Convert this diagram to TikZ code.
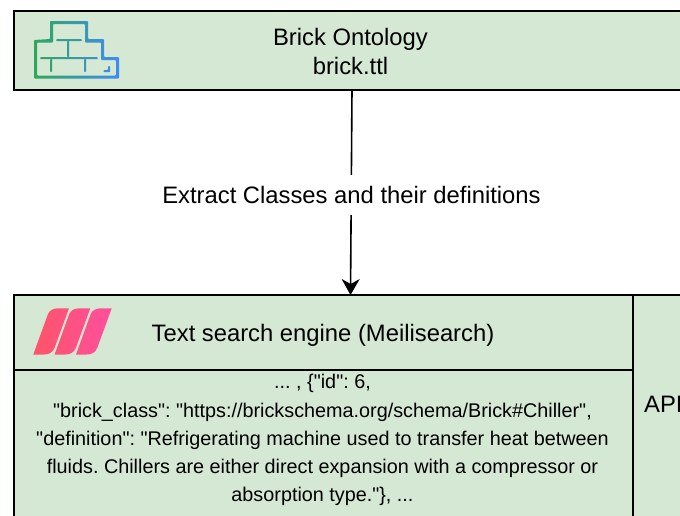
\documentclass[tikz,border=0pt]{standalone}
\usepackage{fontspec}
\setmainfont{Liberation Sans}[Ligatures=TeXOff]
\usetikzlibrary{arrows.meta}
\definecolor{boxgreen}{HTML}{D5E8D4}
\definecolor{brickgreen}{HTML}{2FA85A}
\definecolor{brickblue}{HTML}{3F8CF5}
\definecolor{meilired}{HTML}{FF5468}
\definecolor{meilipink}{HTML}{FF4F9E}
\tikzset{
  panel/.style={draw=black,fill=boxgreen,line width=1.6pt,minimum width=#1,inner sep=0pt,outer sep=0pt,anchor=north west,align=center},
  big/.style={font=\fontsize{23.8}{29}\selectfont},
  small/.style={font=\fontsize{19.8}{28.2}\selectfont},
  flow/.style={draw=black,line width=1.6pt,-{Stealth[length=16pt,width=18pt,inset=5pt]}},
}
\begin{document}
\frenchspacing
\begin{tikzpicture}[x=1pt,y=-1pt]
\useasboundingbox (0,0) rectangle (680,515);
\clip (0,0) rectangle (680,515);
\node[panel=673pt,minimum height=79pt] (brick) at (14,11) {};
\node[big,align=center,anchor=center] (bricktext) at (350.5,51.5) {Brick Ontology\\brick.ttl};
\node[panel=619pt,minimum height=75pt] (engine) at (14,295) {};
\node[big,anchor=center] (enginetext) at (323,335) {Text search engine (Meilisearch)};
\node[panel=619pt,minimum height=160pt] (body) at (14,370) {};
\node[small,align=center,anchor=north] (bodytext) at (322.5,371) {... , \{"id": 6,\\"brick\_class": "https://brickschema.org/schema/Brick\#Chiller",\\"definition": "Refrigerating machine used to transfer heat between\\fluids. Chillers are either direct expansion with a compressor or\\absorption type."\}, ...};
\node[panel=60pt,minimum height=235pt] (api) at (633,295) {};
\node[big,anchor=west,inner sep=0pt] (apitext) at (644,404) {API};
\coordinate (from) at (352,90);
\coordinate (to) at (350.5,295);
\draw[flow] (from) -- (to);
\node[big,fill=white,inner xsep=3pt,inner ysep=0pt,minimum height=40pt,anchor=center] (lbl) at (351.5,195) {Extract Classes and their definitions};
% Brick logo
\shade[left color=brickgreen,right color=brickblue,even odd rule]
  [rounded corners=0.8pt]
  (34,40) -- (34,78.5) -- (119,78.5) -- (119,57) -- (104,57) -- (104,39) -- (88,39) -- (88,21) -- (50,21) -- (50,39) -- cycle
  (37,42.5) -- (53,42.5) -- (53,24) -- (85,24) -- (85,42.5) -- (101,42.5) -- (101,60) -- (116,60) -- (116,75.5) -- (37,75.5) -- cycle
  (56,39.2) rectangle (82,41)
  (67.2,41) rectangle (69.2,57.2)
  (40,57.2) rectangle (98,59)
  (50.2,59) rectangle (52.2,72)
  (84.2,59) rectangle (86.2,72)
  (103.5,70) -- (108,70) -- (108,66) -- (110.2,66) -- (110.2,72.2) -- (103.5,72.2) -- cycle;
% Meilisearch logo
\shade[left color=meilired,right color=meilipink]
  (33.3,354.5) -- (48,314) .. controls (49.5,310.5) and (53,308.3) .. (58,308.3) -- (69,308.3) -- (54.5,348) .. controls (52.5,352.5) and (49,354.5) .. (44,354.5) -- cycle
  (54.6,354.5) -- (69.3,314) .. controls (70.8,310.5) and (74.3,308.3) .. (79.3,308.3) -- (90.3,308.3) -- (75.8,348) .. controls (73.8,352.5) and (70.3,354.5) .. (65.3,354.5) -- cycle
  (76,354.5) -- (90.7,314) .. controls (92.2,310.5) and (95.7,308.3) .. (100.7,308.3) -- (111.7,308.3) -- (97.2,348) .. controls (95.2,352.5) and (91.7,354.5) .. (86.7,354.5) -- cycle;
\end{tikzpicture}
\end{document}
